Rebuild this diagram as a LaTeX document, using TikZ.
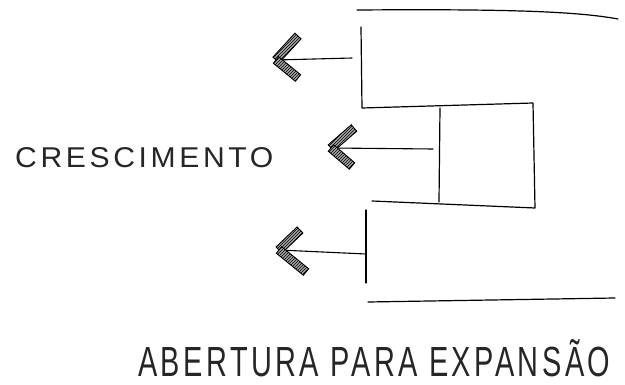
\documentclass[tikz,border=0pt]{standalone}
\usepackage{fontspec}
\setmainfont{Liberation Sans}[LetterSpace=12]
\usetikzlibrary{calc,patterns}
\tikzset{
  sketch/.style={line width=1.2pt, line cap=round, line join=round, black},
  shaft/.style={line width=1.1pt, line cap=round, black},
  armbox/.style={line width=0.9pt, draw=black, fill=black!35, postaction={pattern=north east lines, pattern color=black}},
  label/.style={inner sep=0pt, anchor=south west, text=black!85}
}
\newcommand\harm[2]{%
  \draw[armbox] ($(#1)!4.2pt!90:(#2)$) -- ($(#2)!4.2pt!-90:(#1)$) --
    ($(#2)!4.2pt!90:(#1)$) -- ($(#1)!4.2pt!-90:(#2)$) -- cycle;}
\begin{document}
\begin{tikzpicture}[x=1pt,y=-1pt]
\useasboundingbox (0,0) rectangle (625,385);
% outline of the bracket shape
\coordinate (topL) at (357,10);
\coordinate (topR) at (618,19);
\coordinate (v1t) at (361,27);
\coordinate (v1b) at (362,108);
\coordinate (mR) at (533,103);
\coordinate (mRb) at (535,208);
\coordinate (inT) at (440,108);
\coordinate (inB) at (439,202);
\coordinate (mbL) at (372,201);
\coordinate (v2t) at (366,210);
\coordinate (v2b) at (366,283);
\coordinate (botL) at (368,302);
\coordinate (botR) at (615,298);
\draw[sketch] (topL) .. controls (500,9) and (575,11) .. (topR);
\draw[sketch] (v1t) -- (v1b) -- (mR) -- (mRb) -- (mbL);
\draw[sketch] (inT) -- (inB);
\draw[sketch] (v2t) -- (v2b);
\draw[sketch] (botL) -- (botR);
% arrows
\coordinate (s1) at (352,58);
\coordinate (t1) at (276,60);
\coordinate (a1u) at (298,36);
\coordinate (a1d) at (298,78);
\coordinate (s2) at (433,149);
\coordinate (t2) at (331,148);
\coordinate (a2u) at (354,128);
\coordinate (a2d) at (352,166);
\coordinate (s3) at (366,254);
\coordinate (t3) at (279,250);
\coordinate (a3u) at (300,230);
\coordinate (a3d) at (306,272);
\draw[shaft] (s1) -- (t1);
\draw[shaft] (s2) -- (t2);
\draw[shaft] (s3) -- (t3);
\harm{t1}{a1u}\harm{t1}{a1d}
\harm{t2}{a2u}\harm{t2}{a2d}
\harm{t3}{a3u}\harm{t3}{a3d}
% labels
\node[label] (cresc) at (15,168) {\resizebox{258pt}{20pt}{CRESCIMENTO}};
\node[label] (abert) at (138,377) {\resizebox{472pt}{37pt}{ABERTURA PARA EXPANSÃO}};
\end{tikzpicture}
\end{document}
